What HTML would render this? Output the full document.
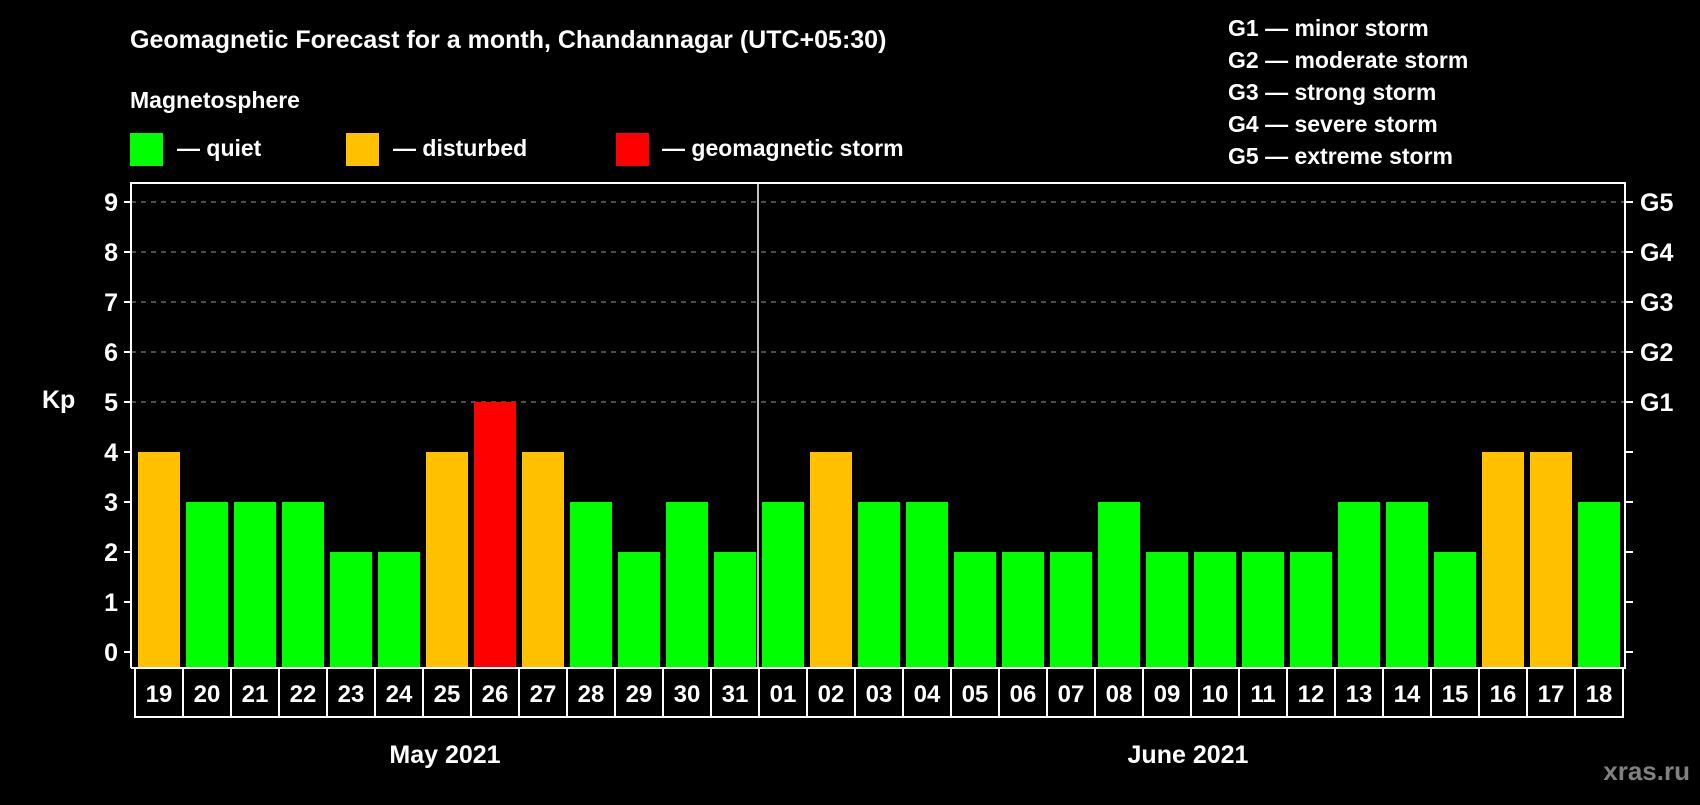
<!DOCTYPE html>
<html><head><meta charset="utf-8"><style>
body{margin:0;background:#000;width:1700px;height:800px;overflow:hidden}
svg text{font-family:"Liberation Sans",Arial,sans-serif;font-weight:bold;fill:#fff}
</style></head><body>
<svg id="chart" width="1700" height="800" xmlns="http://www.w3.org/2000/svg">
<text x="130" y="48" font-size="25">Geomagnetic Forecast for a month, Chandannagar (UTC+05:30)</text>
<text x="130" y="108" font-size="23">Magnetosphere</text>
<g><rect x="130" y="133" width="33" height="33" fill="#00ff00"/><text x="177" y="156" font-size="23">— quiet</text></g>
<g><rect x="346" y="133" width="33" height="33" fill="#ffc000"/><text x="393" y="156" font-size="23">— disturbed</text></g>
<g><rect x="616" y="133" width="33" height="33" fill="#ff0000"/><text x="662" y="156" font-size="23">— geomagnetic storm</text></g>
<g font-size="23">
<text x="1228" y="36">G1 — minor storm</text>
<text x="1228" y="68">G2 — moderate storm</text>
<text x="1228" y="100">G3 — strong storm</text>
<text x="1228" y="132">G4 — severe storm</text>
<text x="1228" y="164">G5 — extreme storm</text>
</g>
<text x="42" y="408" font-size="25">Kp</text>
<g id="plot"></g>
<text x="445" y="763" font-size="25" text-anchor="middle">May 2021</text>
<text x="1188" y="763" font-size="25" text-anchor="middle">June 2021</text>
<text x="1690" y="780" font-size="26" text-anchor="end" style="fill:#808080">xras.ru</text>
</svg>
<script>
const days=["19","20","21","22","23","24","25","26","27","28","29","30","31","01","02","03","04","05","06","07","08","09","10","11","12","13","14","15","16","17","18"];
const kp=[4,3,3,3,2,2,4,5,4,3,2,3,2,3,4,3,3,2,2,2,3,2,2,2,2,3,3,2,4,4,3];
const yTicks=[0,1,2,3,4,5,6,7,8,9];
const gLabels=[[5,"G1"],[6,"G2"],[7,"G3"],[8,"G4"],[9,"G5"]];
const NS="http://www.w3.org/2000/svg";
const g=document.getElementById('plot');
const L=131,R=1625,T=183,B=668,x0=134,slot=48;
const y=k=>652-50*k;
const xs=i=>x0+i*slot;
function mk(t,a){const e=document.createElementNS(NS,t);for(const k in a)e.setAttribute(k,a[k]);g.appendChild(e);return e;}
yTicks.forEach(k=>{
 if(k>=5){const l=mk('line',{x1:L,x2:R,y1:y(k),y2:y(k),stroke:'#999','stroke-dasharray':'5 5','stroke-width':1});
 
 }
 const t1=mk('line',{x1:L-7,x2:L,y1:y(k),y2:y(k),stroke:'#fff','stroke-width':2});
 
 
 const t2=mk('line',{x1:R,x2:R+8,y1:y(k),y2:y(k),stroke:'#fff','stroke-width':2});
 
 
 const tx=mk('text',{x:L-13,y:y(k)+9,'font-size':25,'text-anchor':'end'});tx.textContent=k;
 
 
});
gLabels.forEach(([k,s])=>{const t=mk('text',{x:1640,y:y(k)+9,'font-size':25});t.textContent=s;
 
 });
kp.forEach((v,i)=>{
 const c=v>=5?'#ff0000':(v>=4?'#ffc000':'#00ff00');
 const r=mk('rect',{x:xs(i)+4,y:y(v),width:42,height:B-y(v),fill:c});
 
 
 const b=mk('rect',{x:xs(i)+1,y:B,width:48,height:49,fill:'none',stroke:'#fff','stroke-width':2});
 
 
 const t=mk('text',{x:xs(i)+25,y:B+34,'font-size':24,'text-anchor':'middle'});t.textContent=days[i];
 
 
});
const f=mk('path',{d:`M${L} ${B}V${T}H${R}V${B}H${L}`,fill:'none',stroke:'#fff','stroke-width':2});


const m=mk('line',{x1:xs(13),x2:xs(13),y1:T,y2:B,stroke:'#fff','stroke-width':1.5});


</script>
</body></html>
